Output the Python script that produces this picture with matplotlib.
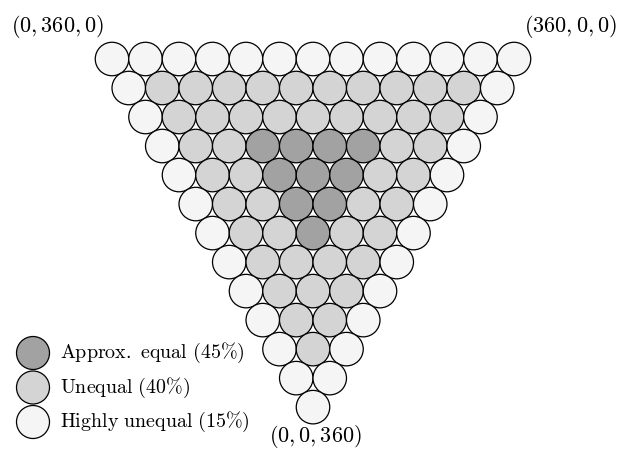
import numpy as np
import matplotlib
matplotlib.use("Agg")
import matplotlib.pyplot as plt
from matplotlib.patches import Circle

plt.rcParams['mathtext.fontset'] = 'cm'

# class per circle, rows from top (13 circles) to bottom (1 circle)
# L = highly unequal, M = unequal, D = approx. equal
rows = [
    "LLLLLLLLLLLLL",
    "LMMMMMMMMMML",
    "LMMMMMMMMML",
    "LMMDDDDMML",
    "LMMDDDMML",
    "LMMDDMML",
    "LMMDMML",
    "LMMMML",
    "LMMML",
    "LMML",
    "LML",
    "LL",
    "L",
]
legend_labels = ["Approx. equal (45%)", "Unequal (40%)", "Highly unequal (15%)"]
legend_keys = ["D", "M", "L"]
corner_labels = ["(0,360,0)", "(360,0,0)", "(0,0,360)"]

colors = {"D": "#a2a2a2", "M": "#d4d4d4", "L": "#f5f5f5"}

fig = plt.figure(figsize=(6.23, 4.5), dpi=100)
ax = fig.add_axes([0, 0, 1, 1])
ax.set_xlim(0, 623)
ax.set_ylim(450, 0)
ax.set_aspect('equal')
ax.axis('off')

d = 33.5
r = d / 2
xc, y0 = 313, 59
x0 = xc - 6 * d
dy = d * np.sqrt(3) / 2
for j, row in enumerate(rows):
    for i, c in enumerate(row):
        x = x0 + j * d / 2 + i * d
        y = y0 + j * dy
        ax.add_patch(Circle((x, y), r, facecolor=colors[c], edgecolor='black', lw=0.9))

def mt(s):
    s = s.replace(' ', r'\ ').replace('%', r'\%')
    return r'$\mathrm{' + s + '}$'

ax.text(57, 27, '$' + corner_labels[0] + '$', fontsize=16, ha='center', va='center')
ax.text(570, 27, '$' + corner_labels[1] + '$', fontsize=16, ha='center', va='center')
ax.text(315, 437, '$' + corner_labels[2] + '$', fontsize=16, ha='center', va='center')

for k, (lab, key) in enumerate(zip(legend_labels, legend_keys)):
    y = 353 + k * 34.5
    ax.add_patch(Circle((33, y), 16.5, facecolor=colors[key], edgecolor='black', lw=0.9))
    ax.text(60, y, mt(lab), fontsize=14.4, ha='left', va='center')

fig.savefig("out.png", dpi=100)
